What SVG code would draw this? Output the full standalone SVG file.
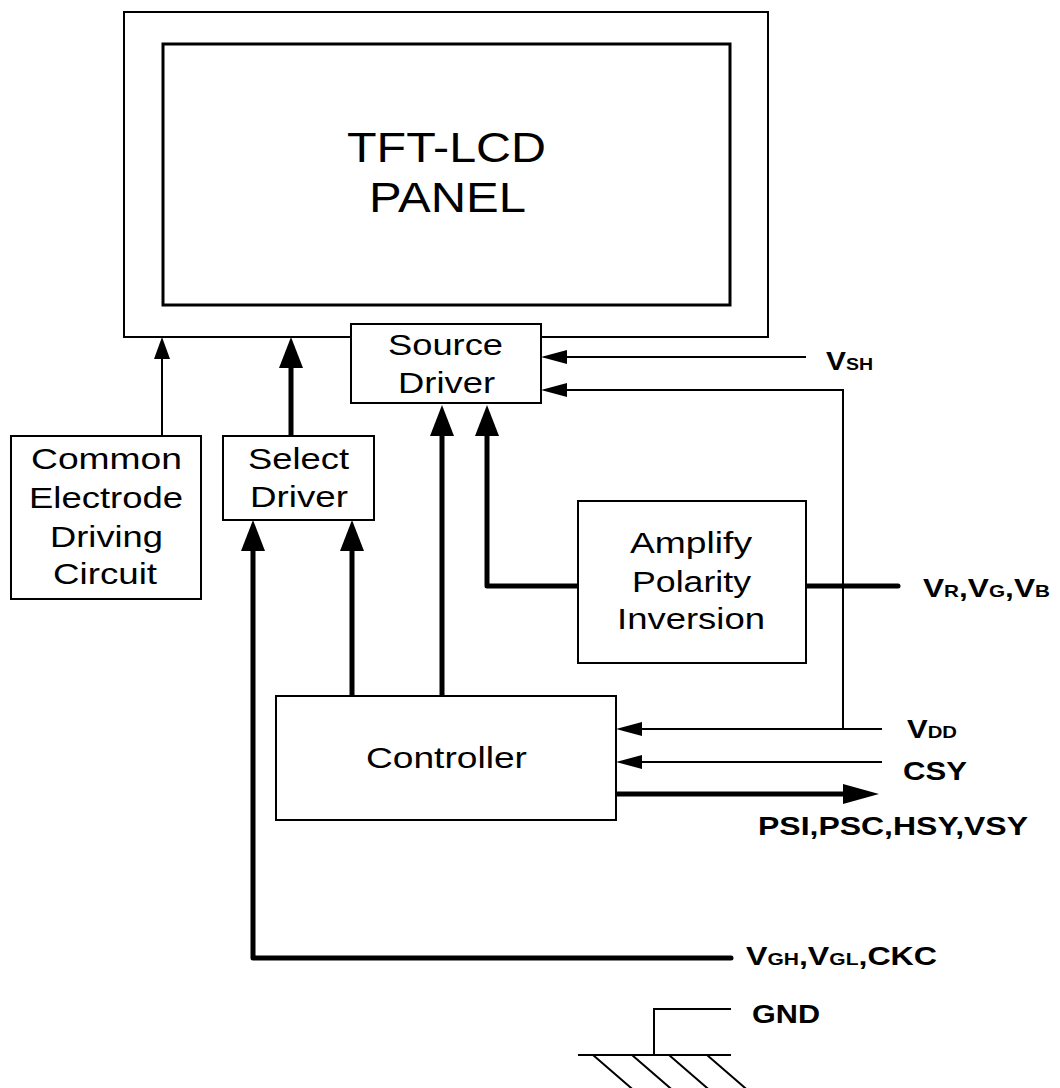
<svg xmlns="http://www.w3.org/2000/svg" width="1060" height="1088" viewBox="0 0 1060 1088">
<style>
.box{fill:#fff;stroke:#000;stroke-width:2}
.t{font-family:"Liberation Sans",Arial,sans-serif;font-size:30px;fill:#000}
.big{font-family:"Liberation Sans",Arial,sans-serif;font-size:42px;fill:#000}
.lbl{font-family:"Liberation Sans",Arial,sans-serif;font-size:26px;font-weight:bold;fill:#000}
.sub{font-size:17px}
.thin{fill:none;stroke:#000;stroke-width:2}
.thick{fill:none;stroke:#000;stroke-width:5;stroke-linecap:round;stroke-linejoin:round}
</style>
<defs>
<marker id="aThinV" markerUnits="userSpaceOnUse" viewBox="0 0 22 16" markerWidth="22" markerHeight="16" refX="0" refY="8" orient="auto"><path d="M0,0 L22,8 L0,16 z" fill="#000"/></marker>
<marker id="aThinH" markerUnits="userSpaceOnUse" viewBox="0 0 26 14" markerWidth="26" markerHeight="14" refX="0" refY="7" orient="auto"><path d="M0,0 L26,7 L0,14 z" fill="#000"/></marker>
<marker id="aThick" markerUnits="userSpaceOnUse" viewBox="0 0 31 24" markerWidth="31" markerHeight="24" refX="0" refY="12" orient="auto"><path d="M0,0 L31,12 L0,24 z" fill="#000"/></marker>
<marker id="aOut" markerUnits="userSpaceOnUse" viewBox="0 0 36 20" markerWidth="36" markerHeight="20" refX="0" refY="10" orient="auto"><path d="M0,0 L36,10 L0,20 z" fill="#000"/></marker>
</defs>
<rect width="1060" height="1088" fill="#fff"/>

<g id="panel">
<rect class="box" x="124" y="12" width="644" height="325"/>
<rect x="163" y="44" width="567" height="261" fill="#fff" stroke="#000" stroke-width="3"/>
<text class="big" x="347" y="162" textLength="199" lengthAdjust="spacingAndGlyphs">TFT-LCD</text>
<text class="big" x="369" y="212" textLength="157" lengthAdjust="spacingAndGlyphs">PANEL</text>
</g>

<g id="connectors">
<path class="thin" d="M162,436 V359" marker-end="url(#aThinV)"/>
<path class="thick" d="M291,436 V368" marker-end="url(#aThick)"/>
<path class="thick" d="M731,958 H253 V551" marker-end="url(#aThick)"/>
<path class="thick" d="M352,696 V551" marker-end="url(#aThick)"/>
<path class="thick" d="M442,696 V436" marker-end="url(#aThick)"/>
<path class="thick" d="M578,586 H487 V436" marker-end="url(#aThick)"/>
<path class="thick" d="M806,586 H898"/>
<path class="thin" d="M806,357 H567" marker-end="url(#aThinH)"/>
<path class="thin" d="M843,729 V390 H567" marker-end="url(#aThinH)"/>
<path class="thin" d="M882,729 H642" marker-end="url(#aThinH)"/>
<path class="thin" d="M882,762 H642" marker-end="url(#aThinH)"/>
<path class="thick" d="M616,794 H843" marker-end="url(#aOut)"/>
<path class="thin" d="M731,1009 H654 V1055"/>
</g>

<g id="ground">
<path class="thin" d="M578,1055 H731"/>
<path class="thin" d="M593,1055 L645,1100 M632,1055 L684,1100 M669,1055 L721,1100 M707,1055 L759,1100"/>
</g>

<g id="source-driver">
<rect class="box" x="351" y="324" width="190" height="79"/>
<text class="t" x="388" y="355" textLength="115" lengthAdjust="spacingAndGlyphs">Source</text>
<text class="t" x="398" y="393" textLength="97" lengthAdjust="spacingAndGlyphs">Driver</text>
</g>

<g id="common-electrode">
<rect class="box" x="11" y="436" width="190" height="163"/>
<text class="t" x="31" y="469" textLength="151" lengthAdjust="spacingAndGlyphs">Common</text>
<text class="t" x="29" y="508" textLength="154" lengthAdjust="spacingAndGlyphs">Electrode</text>
<text class="t" x="50" y="547" textLength="113" lengthAdjust="spacingAndGlyphs">Driving</text>
<text class="t" x="53" y="584" textLength="104" lengthAdjust="spacingAndGlyphs">Circuit</text>
</g>

<g id="select-driver">
<rect class="box" x="223" y="436" width="151" height="84"/>
<text class="t" x="248" y="469" textLength="101" lengthAdjust="spacingAndGlyphs">Select</text>
<text class="t" x="250" y="507" textLength="98" lengthAdjust="spacingAndGlyphs">Driver</text>
</g>

<g id="amplify">
<rect class="box" x="578" y="501" width="228" height="162"/>
<text class="t" x="630" y="553" textLength="122" lengthAdjust="spacingAndGlyphs">Amplify</text>
<text class="t" x="632" y="592" textLength="119" lengthAdjust="spacingAndGlyphs">Polarity</text>
<text class="t" x="617" y="629" textLength="148" lengthAdjust="spacingAndGlyphs">Inversion</text>
</g>

<g id="controller">
<rect class="box" x="276" y="696" width="340" height="124"/>
<text class="t" x="366" y="768" textLength="161" lengthAdjust="spacingAndGlyphs">Controller</text>
</g>

<g id="labels">
<text class="lbl" x="826" y="370" textLength="47" lengthAdjust="spacingAndGlyphs">V<tspan class="sub">SH</tspan></text>
<text class="lbl" x="923" y="597" textLength="127" lengthAdjust="spacingAndGlyphs">V<tspan class="sub">R</tspan>,V<tspan class="sub">G</tspan>,V<tspan class="sub">B</tspan></text>
<text class="lbl" x="907" y="738" textLength="50" lengthAdjust="spacingAndGlyphs">V<tspan class="sub">DD</tspan></text>
<text class="lbl" x="903" y="780" textLength="64" lengthAdjust="spacingAndGlyphs">CSY</text>
<text class="lbl" x="758" y="835" textLength="270" lengthAdjust="spacingAndGlyphs">PSI,PSC,HSY,VSY</text>
<text class="lbl" x="746" y="965" textLength="191" lengthAdjust="spacingAndGlyphs">V<tspan class="sub">GH</tspan>,V<tspan class="sub">GL</tspan>,CKC</text>
<text class="lbl" x="752" y="1023" textLength="68" lengthAdjust="spacingAndGlyphs">GND</text>
</g>
</svg>
